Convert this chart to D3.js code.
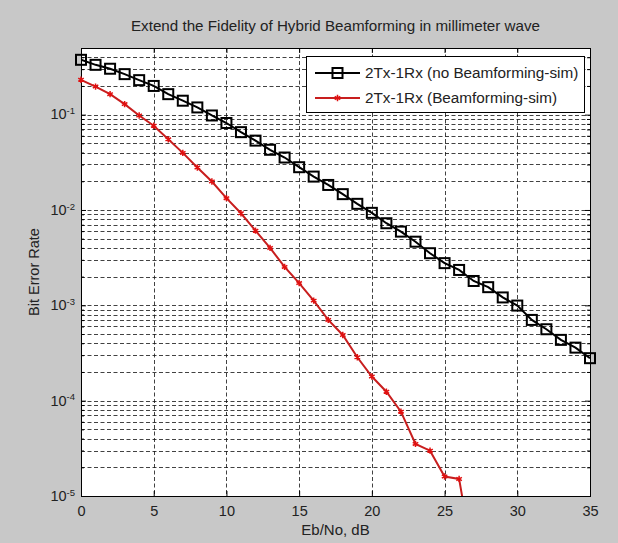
<!DOCTYPE html>
<html>
<head>
<meta charset="utf-8">
<script src="https://cdn.jsdelivr.net/npm/d3@7"></script>
<style>
  body { margin: 0; background: #c8c8c8; }
  svg { display: block; font-family: "Liberation Sans", Arial, sans-serif; }
</style>
</head>
<body>
<div id="chart"></div>
<script>
// chart data
const chartTitle = "Extend the Fidelity of Hybrid Beamforming in millimeter wave";
const xLabel = "Eb/No, dB";
const yLabel = "Bit Error Rate";
const legendLabels = ["2Tx-1Rx (no Beamforming-sim)", "2Tx-1Rx (Beamforming-sim)"];

const ebNoNoBf = [0, 1, 2, 3, 4, 5, 6, 7, 8, 9, 10, 11, 12, 13, 14, 15, 16, 17,
  18, 19, 20, 21, 22, 23, 24, 25, 26, 27, 28, 29, 30, 31, 32, 33, 34, 35];
const berNoBf = [0.376, 0.333, 0.303, 0.266, 0.230, 0.200, 0.164, 0.140, 0.119,
  0.098, 0.0817, 0.0655, 0.0534, 0.0428, 0.0355, 0.0281, 0.0224, 0.0183,
  0.01466, 0.0116, 0.00933, 0.00726, 0.00593, 0.00465, 0.00352, 0.00277,
  0.00235, 0.00180, 0.00155, 0.00121, 0.000994, 0.000703, 0.000561,
  0.000434, 0.000360, 0.000279];

const ebNoBf = [0, 1, 2, 3, 4, 5, 6, 7, 8, 9, 10, 11, 12, 13, 14, 15, 16, 17,
  18, 19, 20, 21, 22, 23, 24, 25, 26, 27];
const berBf = [0.232, 0.197, 0.164, 0.129, 0.098, 0.0764, 0.0551, 0.0397,
  0.0279, 0.0199, 0.0133, 0.00924, 0.00607, 0.00400, 0.00253, 0.00171,
  0.00112, 0.000703, 0.000489, 0.000285, 0.000179, 0.000124, 7.67e-5,
  3.52e-5, 2.99e-5, 1.60e-5, 1.51e-5, 2e-6];

const xTicks = [0, 5, 10, 15, 20, 25, 30, 35];
const yExponents = [-5, -4, -3, -2, -1];
const minorMultipliers = [2, 3, 4, 5, 6, 7, 8, 9];

const W = 618, H = 543;
const plot = { left: 81, right: 590, top: 48, bottom: 496 };

const svg = d3.select("#chart").append("svg")
  .attr("width", W).attr("height", H);

svg.append("rect").attr("width", W).attr("height", H).attr("fill", "#c8c8c8");

const x = d3.scaleLinear().domain([0, 35]).range([plot.left, plot.right]);
const y = d3.scaleLog().domain([1e-5, 0.5]).range([plot.bottom, plot.top]);

// white axes background
svg.append("rect")
  .attr("x", plot.left).attr("y", plot.top)
  .attr("width", plot.right - plot.left).attr("height", plot.bottom - plot.top)
  .attr("fill", "#fff");

// grid values
const majorY = yExponents.map((e) => Math.pow(10, e));
const minorY = [];
yExponents.forEach((e) => {
  minorMultipliers.forEach((m) => {
    const v = m * Math.pow(10, e);
    if (v <= 0.5) minorY.push(v);
  });
});
const gridY = majorY.concat(minorY);

const grid = svg.append("g")
  .attr("stroke", "#111")
  .attr("stroke-width", 0.8)
  .attr("stroke-dasharray", "4,2.5");

grid.selectAll(".gy").data(gridY).enter().append("line")
  .attr("x1", plot.left).attr("x2", plot.right)
  .attr("y1", (d) => Math.round(y(d)) + 0.5)
  .attr("y2", (d) => Math.round(y(d)) + 0.5);

grid.selectAll(".gx").data(xTicks.slice(1, -1)).enter().append("line")
  .attr("y1", plot.top).attr("y2", plot.bottom)
  .attr("x1", (d) => Math.round(x(d)) + 0.5)
  .attr("x2", (d) => Math.round(x(d)) + 0.5);

// axes (ticks point inward, as in MATLAB)
const xAxisB = svg.append("g")
  .attr("transform", `translate(0,${plot.bottom})`)
  .call(d3.axisBottom(x).tickValues(xTicks).tickSize(-5).tickPadding(10).tickSizeOuter(0));
const xAxisT = svg.append("g")
  .attr("transform", `translate(0,${plot.top})`)
  .call(d3.axisTop(x).tickValues(xTicks).tickSize(-5).tickFormat("").tickSizeOuter(0));

const yAxisL = svg.append("g")
  .attr("transform", `translate(${plot.left},0)`)
  .call(d3.axisLeft(y).tickValues(majorY).tickSize(-5).tickPadding(6).tickFormat(() => "10").tickSizeOuter(0));
const yAxisR = svg.append("g")
  .attr("transform", `translate(${plot.right},0)`)
  .call(d3.axisRight(y).tickValues(majorY).tickSize(-5).tickFormat("").tickSizeOuter(0));

const yMinorL = svg.append("g")
  .attr("transform", `translate(${plot.left},0)`)
  .call(d3.axisLeft(y).tickValues(minorY).tickSize(-3).tickFormat("").tickSizeOuter(0));
const yMinorR = svg.append("g")
  .attr("transform", `translate(${plot.right},0)`)
  .call(d3.axisRight(y).tickValues(minorY).tickSize(-3).tickFormat("").tickSizeOuter(0));

[xAxisB, xAxisT, yAxisL, yAxisR, yMinorL, yMinorR].forEach((g) => {
  g.select(".domain").remove();
  g.selectAll("line").attr("stroke", "#000");
  g.selectAll("text")
    .attr("fill", "#222")
    .style("font-family", "'Liberation Sans', Arial, sans-serif")
    .style("font-size", "14.5px");
});

// superscript exponents on y labels
yAxisL.selectAll(".tick text")
  .attr("dy", "0.3em")
  .each(function (d) {
    const t = d3.select(this);
    t.text("10");
    t.append("tspan")
      .attr("dy", "-0.55em")
      .style("font-size", "9.5px")
      .text(Math.round(Math.log10(d)));
  });

// axes box
svg.append("rect")
  .attr("x", plot.left + 0.5).attr("y", plot.top + 0.5)
  .attr("width", plot.right - plot.left).attr("height", plot.bottom - plot.top)
  .attr("fill", "none").attr("stroke", "#000").attr("stroke-width", 1);

// clip for the lines
svg.append("clipPath").attr("id", "clip")
  .append("rect")
  .attr("x", plot.left).attr("y", plot.top)
  .attr("width", plot.right - plot.left).attr("height", plot.bottom - plot.top);

const lineGen = d3.line()
  .x((d) => x(d[0]))
  .y((d) => y(d[1]));

const noBf = ebNoNoBf.map((v, i) => [v, berNoBf[i]]);
const bf = ebNoBf.map((v, i) => [v, berBf[i]]);

svg.append("path")
  .datum(noBf)
  .attr("clip-path", "url(#clip)")
  .attr("d", lineGen)
  .attr("fill", "none")
  .attr("stroke", "#000")
  .attr("stroke-width", 2);

svg.selectAll(".sq").data(noBf).enter().append("rect")
  .attr("x", (d) => x(d[0]) - 5)
  .attr("y", (d) => y(d[1]) - 5)
  .attr("width", 10).attr("height", 10)
  .attr("fill", "none")
  .attr("stroke", "#000")
  .attr("stroke-width", 2);

svg.append("path")
  .datum(bf)
  .attr("clip-path", "url(#clip)")
  .attr("d", lineGen)
  .attr("fill", "none")
  .attr("stroke", "#c81e1e")
  .attr("stroke-width", 2);

const star = d3.symbol().type(d3.symbolAsterisk).size(28);
svg.selectAll(".st").data(bf.filter((d) => d[1] >= 1e-5)).enter().append("path")
  .attr("transform", (d) => `translate(${x(d[0])},${y(d[1])})`)
  .attr("d", star)
  .attr("fill", "none")
  .attr("stroke", "#e01010")
  .attr("stroke-width", 1.5);

// title and axis labels
svg.append("text")
  .attr("x", (plot.left + plot.right) / 2).attr("y", 31)
  .attr("text-anchor", "middle")
  .attr("fill", "#222")
  .style("font-size", "15px")
  .attr("textLength", 409)
  .attr("lengthAdjust", "spacingAndGlyphs")
  .text(chartTitle);

svg.append("text")
  .attr("x", (plot.left + plot.right) / 2).attr("y", 535)
  .attr("text-anchor", "middle")
  .attr("fill", "#222")
  .style("font-size", "15px")
  .text(xLabel);

svg.append("text")
  .attr("transform", `translate(39,272) rotate(-90)`)
  .attr("text-anchor", "middle")
  .attr("fill", "#222")
  .style("font-size", "14.5px")
  .text(yLabel);

// legend
const legend = svg.append("g");
legend.append("rect")
  .attr("x", 306.5).attr("y", 56.5)
  .attr("width", 278).attr("height", 56)
  .attr("fill", "#fff").attr("stroke", "#000").attr("stroke-width", 1);

const rows = [
  { label: legendLabels[0], color: "#000", marker: "square", y: 73 },
  { label: legendLabels[1], color: "#c81e1e", marker: "star", y: 98 }
];

rows.forEach((r) => {
  legend.append("line")
    .attr("x1", 315).attr("x2", 360)
    .attr("y1", r.y).attr("y2", r.y)
    .attr("stroke", r.color).attr("stroke-width", 2);
  if (r.marker === "square") {
    legend.append("rect")
      .attr("x", 332.5).attr("y", r.y - 5)
      .attr("width", 10).attr("height", 10)
      .attr("fill", "none").attr("stroke", "#000").attr("stroke-width", 2);
  } else {
    legend.append("path")
      .attr("transform", `translate(337.5,${r.y})`)
      .attr("d", star)
      .attr("fill", "none").attr("stroke", "#e01010").attr("stroke-width", 1.5);
  }
  legend.append("text")
    .attr("x", 365).attr("y", r.y + 5)
    .attr("fill", "#222")
    .style("font-size", "15.3px")
    .text(r.label);
});
</script>
</body>
</html>
